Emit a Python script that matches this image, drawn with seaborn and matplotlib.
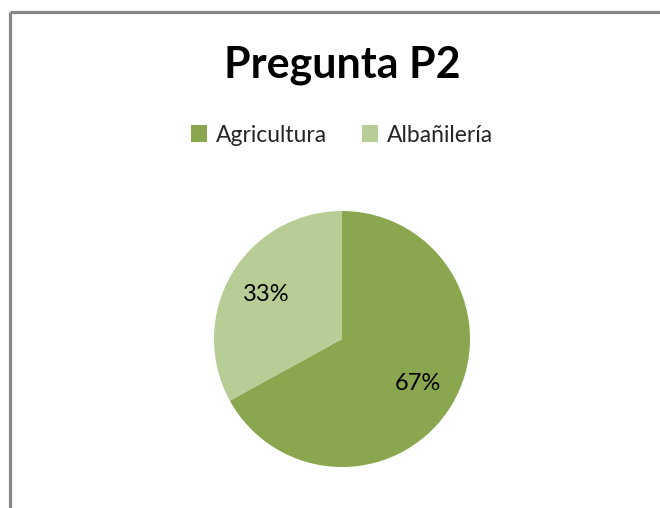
import matplotlib
matplotlib.use("Agg")
import matplotlib.pyplot as plt
import seaborn as sns
from matplotlib.patches import Patch
from matplotlib.lines import Line2D

sns.set_theme(style="white")
plt.rcParams['font.family'] = ['Lato', 'DejaVu Sans']

# datos
categorias = ['Agricultura', 'Albañilería']
valores = [67, 33]
colores = ['#8AA64F', '#B8CD96']
titulo = 'Pregunta P2'

W, H = 660, 508
fig = plt.figure(figsize=(W / 100, H / 100), dpi=100)
fig.patch.set_facecolor('white')

# marco del gráfico (sólo borde izquierdo y superior visibles)
borde = '#878787'
fig.add_artist(Line2D([10 / W, 10 / W], [0, 1 - 12 / H], transform=fig.transFigure,
                      color=borde, lw=2.3, solid_capstyle='butt'))
fig.add_artist(Line2D([10 / W, 1], [1 - 12 / H, 1 - 12 / H], transform=fig.transFigure,
                      color=borde, lw=2.3, solid_capstyle='butt'))

cx, cy, r = 342, 339, 128
ax = fig.add_axes([(cx - r) / W, (H - cy - r) / H, 2 * r / W, 2 * r / H])
ax.pie(valores, colors=colores, startangle=90, counterclock=False,
       autopct='%1.0f%%', pctdistance=0.69, radius=1,
       wedgeprops={'edgecolor': 'none', 'linewidth': 0},
       textprops={'fontsize': 17, 'color': 'black'})
ax.set_xlim(-1, 1)
ax.set_ylim(-1, 1)
ax.set_aspect('equal')
ax.axis('off')

fig.text(cx / W, 1 - 65 / H, titulo, ha='center', va='center',
         fontsize=31, fontweight='bold', color='black')

handles = [Patch(facecolor=c, edgecolor='none') for c in colores]
fig.legend(handles, categorias, loc='center', bbox_to_anchor=(cx / W, 1 - 135 / H),
           ncol=2, frameon=False, fontsize=16.5, handlelength=0.7, handleheight=0.7,
           handletextpad=0.4, columnspacing=1.5)

fig.savefig('out.png', dpi=100, facecolor='white')
